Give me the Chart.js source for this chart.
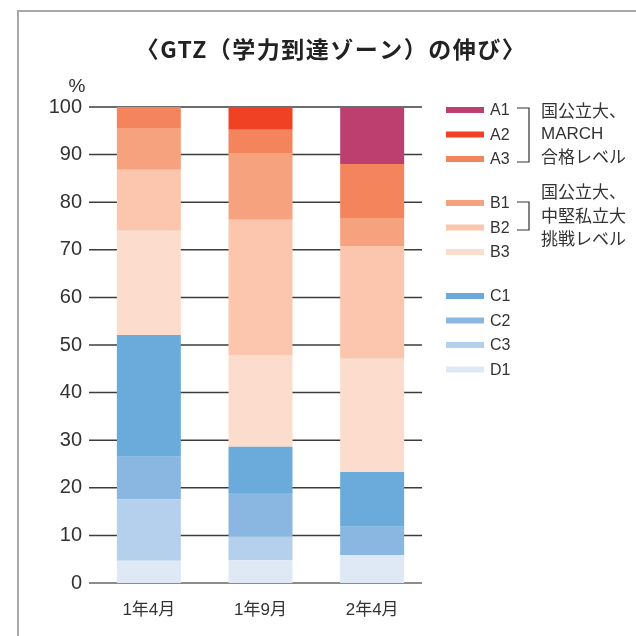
<!DOCTYPE html>
<html>
<head>
<meta charset="utf-8">
<script src="https://cdn.jsdelivr.net/npm/chart.js@4"></script>
<style>
  html, body { margin: 0; padding: 0; background: #fff; }
  canvas { display: block; }
</style>
</head>
<body>
<canvas id="chart" width="636" height="636"></canvas>
<script>
// values, % of students per zone
const labels = ["1年4月", "1年9月", "2年4月"];
const A1 = [0, 0, 12.0];
const A2 = [0, 4.8, 0];
const A3 = [4.4, 4.9, 11.3];
const B1 = [8.8, 14.0, 5.9];
const B2 = [12.8, 28.4, 23.7];
const B3 = [21.9, 19.3, 23.8];
const C1 = [25.6, 9.7, 11.5];
const C2 = [8.9, 9.2, 5.9];
const C3 = [12.9, 4.9, 0];
const D1 = [4.7, 4.8, 5.9];
const yTicks = [0, 10, 20, 30, 40, 50, 60, 70, 80, 90, 100];

const title = "〈GTZ（学力到達ゾーン）の伸び〉";
const noteA = ["国公立大、", "MARCH", "合格レベル"];
const noteB = ["国公立大、", "中堅私立大", "挑戦レベル"];

const latin = "'Liberation Sans', 'Noto Sans CJK JP', sans-serif";
const jp = "'Noto Sans CJK JP', sans-serif";

// bottom of the stack first
const series = [
  { label: "D1", data: D1, color: "#dfe9f6" },
  { label: "C3", data: C3, color: "#b5d0ed" },
  { label: "C2", data: C2, color: "#89b7e1" },
  { label: "C1", data: C1, color: "#6aabdb" },
  { label: "B3", data: B3, color: "#fcdccd" },
  { label: "B2", data: B2, color: "#fbc6ad" },
  { label: "B1", data: B1, color: "#f6a27f" },
  { label: "A3", data: A3, color: "#f4845c" },
  { label: "A2", data: A2, color: "#f04124" },
  { label: "A1", data: A1, color: "#bd3f6f" },
];

const extras = {
  id: "extras",
  beforeDatasetsDraw(chart) {
    const ctx = chart.ctx;
    const y = chart.scales.y;
    ctx.save();
    yTicks.forEach((v) => {
      const py = y.getPixelForValue(v);
      ctx.strokeStyle = v === 0 ? "#666" : "#3c3c3c";
      ctx.lineWidth = 1.5;
      ctx.beginPath();
      ctx.moveTo(89, py);
      ctx.lineTo(422, py);
      ctx.stroke();
    });
    ctx.restore();
  },
  afterDraw(chart) {
    const ctx = chart.ctx;
    ctx.save();
    // frame
    ctx.strokeStyle = "#a8a8a8";
    ctx.lineWidth = 2;
    ctx.beginPath();
    ctx.moveTo(18, 636);
    ctx.lineTo(18, 11);
    ctx.lineTo(636, 11);
    ctx.stroke();

    // title
    ctx.fillStyle = "#222";
    ctx.font = "bold 23px " + jp;
    ctx.letterSpacing = "1.5px";
    ctx.textAlign = "center";
    ctx.textBaseline = "middle";
    ctx.fillText(title, 331, 49);
    ctx.letterSpacing = "0px";

    // unit
    ctx.font = "19px " + latin;
    ctx.fillStyle = "#333";
    ctx.fillText("%", 77, 87);

    // legend, top of stack first
    const items = chart.data.datasets.slice().reverse();
    ctx.textAlign = "left";
    items.forEach((ds, i) => {
      const group = i < 3 ? 0 : i < 6 ? 1 : 2;
      const cy = 110 + i * 24.5 + group * 19.5;
      ctx.fillStyle = ds.backgroundColor;
      ctx.fillRect(446, cy - 3, 38, 6);
      ctx.fillStyle = "#333";
      ctx.font = "16px " + latin;
      ctx.fillText(ds.label, 490, cy + 1);
    });

    // brackets
    ctx.strokeStyle = "#333";
    ctx.lineWidth = 1.2;
    [[108, 162], [202, 230]].forEach(([t, b]) => {
      ctx.beginPath();
      ctx.moveTo(517, t);
      ctx.lineTo(529, t);
      ctx.lineTo(529, b);
      ctx.lineTo(517, b);
      ctx.stroke();
    });

    ctx.fillStyle = "#333";
    noteA.forEach((s, i) => {
      ctx.font = (s === "MARCH" ? "17px " + latin : "17px " + jp);
      ctx.fillText(s, 541, 111 + i * 23);
    });
    ctx.font = "17px " + jp;
    noteB.forEach((s, i) => ctx.fillText(s, 541, 192 + i * 23.5));
    ctx.restore();
  },
};

new Chart(document.getElementById("chart"), {
  type: "bar",
  data: {
    labels: labels,
    datasets: series.map((s) => ({
      label: s.label,
      data: s.data,
      backgroundColor: s.color,
      borderWidth: 0,
      categoryPercentage: 1,
      barPercentage: 0.573,
    })),
  },
  options: {
    responsive: false,
    animation: false,
    layout: { padding: { left: 0, right: 208, top: 107, bottom: 0 } },
    plugins: {
      legend: { display: false },
      tooltip: { enabled: false },
      title: { display: false },
    },
    scales: {
      x: {
        stacked: true,
        grid: { display: false, drawTicks: false },
        border: { display: false },
        ticks: {
          padding: 17,
          color: "#333",
          font: { size: 17, family: latin },
        },
        afterFit(scale) {
          scale.height = 53;
        },
      },
      y: {
        stacked: true,
        min: 0,
        max: 100,
        grid: { display: false, drawTicks: false },
        border: { display: false },
        ticks: {
          stepSize: 10,
          padding: 11,
          color: "#333",
          font: { size: 20, family: latin },
        },
        afterFit(scale) {
          scale.width = 93;
        },
      },
    },
  },
  plugins: [extras],
});
</script>
</body>
</html>
